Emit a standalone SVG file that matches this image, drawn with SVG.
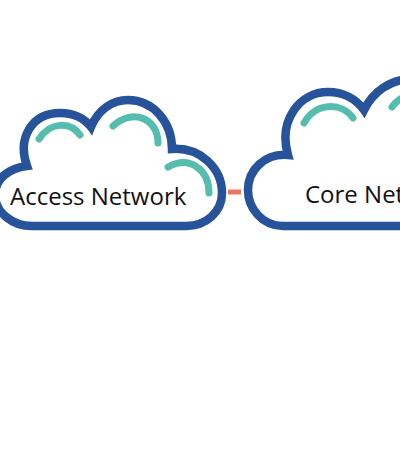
<svg xmlns="http://www.w3.org/2000/svg" width="400" height="458" viewBox="0 0 400 458">
<style>
.cloud{fill:#fff;stroke:#27539b;stroke-width:8.500;stroke-linejoin:miter}
.arc{fill:none;stroke:#55bdae;stroke-width:7;stroke-linecap:round}
.lbl{font-family:"Open Sans","Liberation Sans",sans-serif;font-size:24px;fill:#111}
</style>
<rect width="400" height="458" fill="#fff"/>
<g id="connectors"><line x1="228" y1="192" x2="241" y2="192" stroke="#e8775f" stroke-width="5"/></g>
<g id="access-network">
<path class="cloud" d="M32 226 C12 226 -5 212 -5 195 C-5 178 10 168 27 166 C17 138 32 113 60 113 C73 113 84 118 91 127 C98 110 112 100 128 100 C153 100 172 122 172 149 C200 147 222 168 222 193 C222 212 206 226 186 226 Z"/>
<path class="arc" d="M39 139 C50 122 70 121 80 135"/>
<path class="arc" d="M113 126 C132 108 158 118 158 143"/>
<path class="arc" d="M168 167 C190 155 209 170 209 193"/>
<text class="lbl" x="10" y="205">Access Network</text>
</g>
<g id="core-network">
<path class="cloud" d="M283 226 C262 226 248 208 248 190 C248 170 265 153 288 155 C278 120 300 92 328 92 C343 92 356 99 364 110 C373 92 390 79 412 79 L430 79 L430 226 Z"/>
<path class="arc" d="M304 123 C316 102 342 102 353 118"/>
<path class="arc" d="M392 107 C396 101 402 97 410 94"/>
<text class="lbl" x="305" y="203">Core Net</text>
</g>
</svg>
